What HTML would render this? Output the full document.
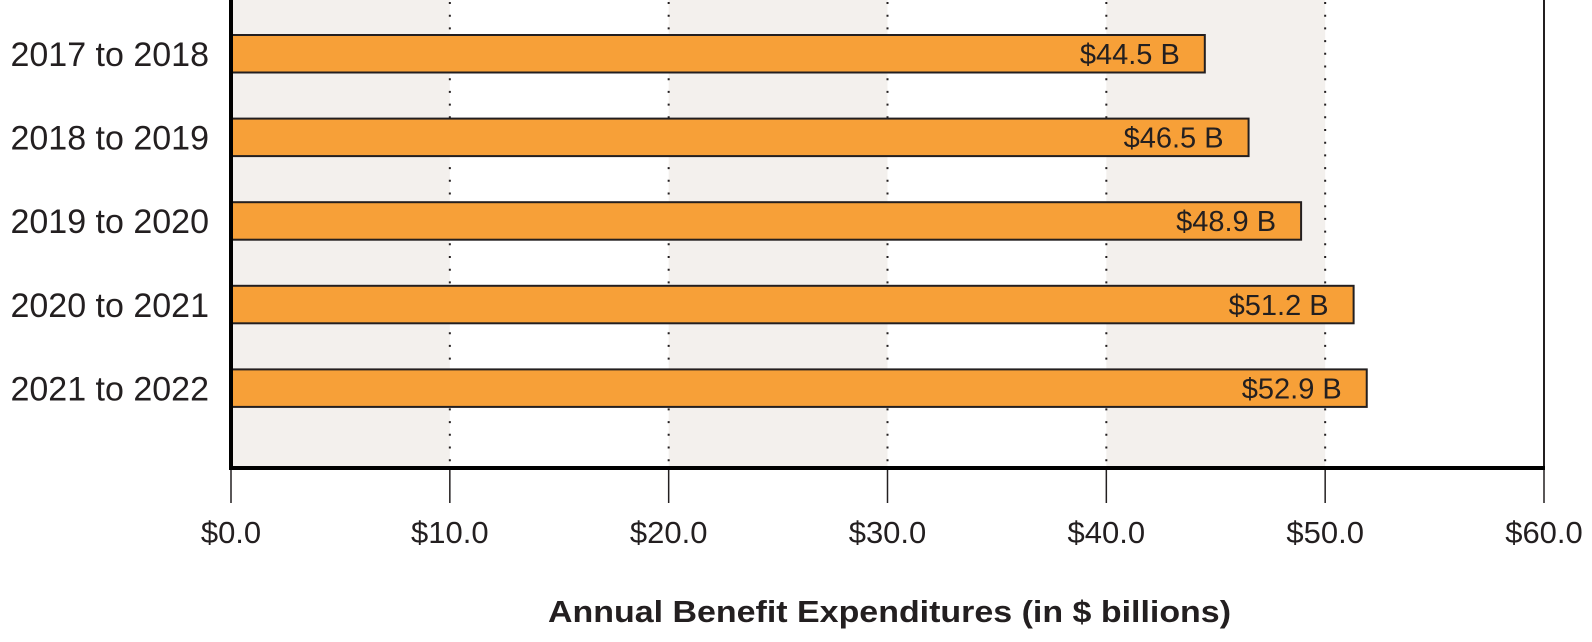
<!DOCTYPE html>
<html><head><meta charset="utf-8"><style>
html,body{margin:0;padding:0;background:#fff;}
svg text{font-family:"Liberation Sans","DejaVu Sans",sans-serif;fill:#231f20;}
</style></head><body>
<svg id="chart" width="1592" height="637" viewBox="0 0 1592 637" xmlns="http://www.w3.org/2000/svg"></svg>
<script>
const categories = ["2017 to 2018","2018 to 2019","2019 to 2020","2020 to 2021","2021 to 2022"];
const values = [44.5, 46.5, 48.9, 51.3, 51.9];
const valueLabels = ["$44.5 B","$46.5 B","$48.9 B","$51.2 B","$52.9 B"];
const ticks = [0,10,20,30,40,50,60];
const tickLabels = ["$0.0","$10.0","$20.0","$30.0","$40.0","$50.0","$60.0"];

const svg = document.getElementById('chart');
const NS = 'http://www.w3.org/2000/svg';
const X0 = 231, X1 = 1544, YB = 468;
const x = v => X0 + (v - 0) / 60 * (X1 - X0);
const rowTop = i => 35 + i * 83.6;
const BH = 37.5;
function mk(tag, attrs, parent){
  const e = document.createElementNS(NS, tag);
  for (const k in attrs) e.setAttribute(k, attrs[k]);
  (parent || svg).appendChild(e);
  return e;
}
for (let i = 0; i < ticks.length - 1; i += 2) {
  const r = mk('rect', {x: x(ticks[i]), y: 0, width: x(ticks[i+1]) - x(ticks[i]), height: YB, fill: '#f3f0ed'});
  
  
}
for (let i = 1; i < ticks.length - 1; i++) {
  const l = mk('line', {x1: x(ticks[i]), x2: x(ticks[i]), y1: 2, y2: YB, stroke: '#231f20', 'stroke-width': 2, 'stroke-dasharray': '2 10.7'});
  
  
}
const rb = mk('line', {x1: X1, x2: X1, y1: 0, y2: YB, stroke: '#231f20', 'stroke-width': 2});


ticks.forEach((t, i) => {
  const tl = mk('line', {x1: x(t), x2: x(t), y1: YB, y2: 503, stroke: '#231f20', 'stroke-width': 1.5});
  
  
  const tx = mk('text', {x: x(t), y: 543, 'font-size': 31, 'text-anchor': 'middle'});
  tx.textContent = tickLabels[i];
  
  
});
categories.forEach((c, i) => {
  const y = rowTop(i);
  const b = mk('rect', {x: X0, y: y, width: x(values[i]) - X0, height: BH, fill: '#f7a038', stroke: '#231f20', 'stroke-width': 2});
  
  
  const vl = mk('text', {x: x(values[i]) - 25, y: y + 29, 'font-size': 29, 'text-anchor': 'end'});
  vl.textContent = valueLabels[i];
  
  
  const cl = mk('text', {x: 209, y: y + 31, 'font-size': 34, 'text-anchor': 'end'});
  cl.textContent = c;
  
  
});
const ya = mk('line', {x1: X0, x2: X0, y1: 0, y2: YB + 2, stroke: '#000', 'stroke-width': 4});


const xa = mk('line', {x1: X0 - 2, x2: X1 + 1, y1: YB, y2: YB, stroke: '#000', 'stroke-width': 4});


const title = mk('text', {x: 548, y: 622, 'font-size': 31, 'font-weight': 'bold', 'textLength': 683, 'lengthAdjust': 'spacingAndGlyphs'});
title.textContent = 'Annual Benefit Expenditures (in $ billions)';


</script>
</body></html>
